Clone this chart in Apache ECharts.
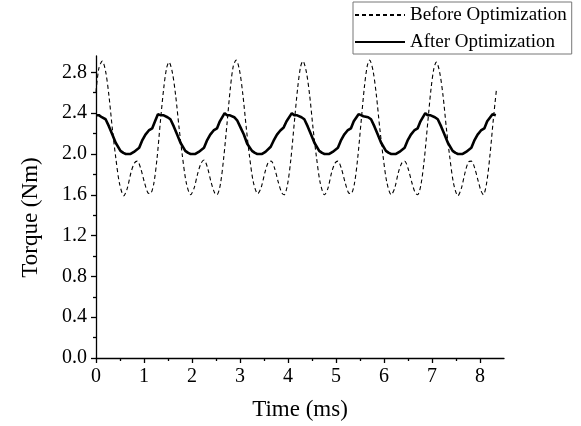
<!DOCTYPE html>
<html>
<head>
<meta charset="utf-8">
<script src="https://cdn.jsdelivr.net/npm/echarts@6/dist/echarts.min.js"></script>
<style>
  html, body { margin: 0; padding: 0; background: #fff; }
  #chart { width: 581px; height: 426px; }
</style>
</head>
<body>
<div id="chart"></div>
<script>
// ---- data ----
const seriesNames = ['Before Optimization', 'After Optimization'];

const beforeTime = [0, 0.06, 0.13, 0.20, 0.27, 0.34, 0.41, 0.49, 0.58, 0.65, 0.73, 0.80, 0.86, 0.93, 1.01, 1.08, 1.13, 1.20, 1.27, 1.34, 1.41, 1.47,
  1.52, 1.59, 1.66, 1.73, 1.80, 1.88, 1.97, 2.04, 2.12, 2.19, 2.25, 2.32, 2.40, 2.47, 2.52, 2.59, 2.66, 2.73, 2.80, 2.86,
  2.92, 2.99, 3.06, 3.13, 3.20, 3.28, 3.37, 3.44, 3.52, 3.59, 3.65, 3.72, 3.80, 3.87, 3.92, 3.99, 4.06, 4.13, 4.20, 4.26,
  4.31, 4.38, 4.45, 4.52, 4.59, 4.67, 4.76, 4.83, 4.91, 4.98, 5.04, 5.11, 5.19, 5.26, 5.31, 5.38, 5.45, 5.52, 5.59, 5.65,
  5.70, 5.77, 5.84, 5.91, 5.98, 6.06, 6.15, 6.22, 6.30, 6.37, 6.43, 6.50, 6.58, 6.65, 6.70, 6.77, 6.84, 6.91, 6.98, 7.04,
  7.09, 7.16, 7.23, 7.30, 7.37, 7.45, 7.54, 7.61, 7.69, 7.76, 7.82, 7.89, 7.97, 8.02, 8.07, 8.14, 8.21, 8.28, 8.34];

const beforeTorque = [2.61, 2.84, 2.91, 2.81, 2.57, 2.25, 1.97, 1.71, 1.59, 1.66, 1.82, 1.91, 1.93, 1.86, 1.72, 1.62, 1.61, 1.70, 1.95, 2.31, 2.64, 2.84,
  2.90, 2.80, 2.57, 2.26, 1.98, 1.72, 1.60, 1.66, 1.81, 1.91, 1.94, 1.87, 1.72, 1.62, 1.60, 1.70, 1.96, 2.30, 2.65, 2.86,
  2.92, 2.82, 2.58, 2.26, 1.97, 1.72, 1.61, 1.67, 1.82, 1.92, 1.93, 1.86, 1.72, 1.62, 1.60, 1.70, 1.95, 2.30, 2.64, 2.85,
  2.91, 2.81, 2.58, 2.26, 1.98, 1.72, 1.60, 1.66, 1.82, 1.91, 1.93, 1.86, 1.72, 1.62, 1.61, 1.70, 1.95, 2.30, 2.65, 2.86,
  2.92, 2.82, 2.58, 2.26, 1.98, 1.72, 1.60, 1.66, 1.82, 1.91, 1.93, 1.86, 1.72, 1.62, 1.60, 1.70, 1.95, 2.30, 2.64, 2.84,
  2.90, 2.80, 2.57, 2.25, 1.97, 1.71, 1.59, 1.66, 1.82, 1.92, 1.93, 1.86, 1.72, 1.64, 1.60, 1.72, 2.00, 2.35, 2.62];

const afterTime = [0, 0.06, 0.12, 0.20, 0.27, 0.34, 0.41, 0.51, 0.57, 0.62, 0.72, 0.79, 0.90, 0.96, 1.03, 1.10, 1.17, 1.23, 1.29,
  1.34, 1.40, 1.49, 1.55, 1.62, 1.69, 1.76, 1.86, 1.92, 1.97, 2.07, 2.14, 2.25, 2.31, 2.38, 2.45, 2.52, 2.58, 2.68,
  2.73, 2.78, 2.88, 2.94, 3.01, 3.08, 3.15, 3.25, 3.31, 3.36, 3.46, 3.53, 3.64, 3.70, 3.77, 3.84, 3.91, 3.97, 4.08,
  4.13, 4.18, 4.28, 4.34, 4.41, 4.48, 4.55, 4.65, 4.71, 4.76, 4.86, 4.93, 5.04, 5.10, 5.17, 5.24, 5.31, 5.37, 5.47,
  5.52, 5.57, 5.67, 5.73, 5.80, 5.87, 5.94, 6.04, 6.10, 6.15, 6.25, 6.32, 6.43, 6.49, 6.56, 6.63, 6.70, 6.76, 6.86,
  6.91, 6.96, 7.06, 7.12, 7.19, 7.26, 7.33, 7.43, 7.49, 7.54, 7.64, 7.71, 7.82, 7.88, 7.95, 8.02, 8.09, 8.15, 8.26, 8.33];

const afterTorque = [2.38, 2.38, 2.36, 2.34, 2.27, 2.19, 2.11, 2.03, 2.01, 2.00, 2.00, 2.02, 2.06, 2.13, 2.19, 2.23, 2.25, 2.32, 2.39,
  2.38, 2.38, 2.36, 2.34, 2.27, 2.19, 2.11, 2.03, 2.01, 2.00, 2.00, 2.02, 2.06, 2.13, 2.19, 2.23, 2.25, 2.32, 2.40,
  2.38, 2.38, 2.36, 2.33, 2.26, 2.19, 2.10, 2.03, 2.01, 2.00, 2.00, 2.02, 2.07, 2.13, 2.19, 2.23, 2.26, 2.32, 2.40,
  2.38, 2.38, 2.36, 2.34, 2.27, 2.19, 2.11, 2.03, 2.01, 2.00, 2.00, 2.02, 2.06, 2.13, 2.19, 2.23, 2.25, 2.32, 2.39,
  2.38, 2.37, 2.36, 2.34, 2.27, 2.19, 2.11, 2.03, 2.01, 2.00, 2.00, 2.02, 2.06, 2.13, 2.19, 2.23, 2.25, 2.32, 2.40,
  2.38, 2.38, 2.36, 2.34, 2.27, 2.19, 2.11, 2.03, 2.01, 2.00, 2.00, 2.02, 2.06, 2.13, 2.19, 2.23, 2.25, 2.32, 2.39, 2.38];

const xTickLabels = [0, 1, 2, 3, 4, 5, 6, 7, 8];
const yTickLabels = [0.0, 0.4, 0.8, 1.2, 1.6, 2.0, 2.4, 2.8];
const xTitle = 'Time (ms)';
const yTitle = 'Torque (Nm)';

// ---- build ----
function zip(a, b) {
  const n = Math.min(a.length, b.length);
  const out = [];
  for (let i = 0; i < n; i++) out.push([a[i], b[i]]);
  return out;
}
function mids(arr) {
  const out = [];
  for (let i = 0; i < arr.length - 1; i++) out.push(+((arr[i] + arr[i + 1]) / 2).toFixed(3));
  return out;
}

const FONT = 'Liberation Serif';
const X_MIN = 0, X_MAX = 8.5, Y_MIN = 0, Y_MAX = 2.96;
const axisLineStyle = { color: '#000', width: 1.3 };

const chart = echarts.init(document.getElementById('chart'), null, { renderer: 'canvas' });

const option = {
  animation: false,
  backgroundColor: '#fff',
  grid: { left: 96, right: 77, top: 56, bottom: 65, containLabel: false },
  legend: {
    orient: 'vertical',
    left: 353,
    top: 2,
    padding: [3, 5, 2, 1],
    itemGap: 7,
    itemWidth: 50,
    itemHeight: 14,
    borderColor: '#777',
    borderWidth: 1,
    borderRadius: 0,
    backgroundColor: '#fff',
    itemStyle: { color: 'rgba(0,0,0,0)', borderColor: 'rgba(0,0,0,0)', borderWidth: 0 },
    textStyle: { fontFamily: FONT, fontSize: 19, color: '#000', lineHeight: 20 },
    data: seriesNames.map(n => ({ name: n }))
  },
  xAxis: [
    {
      type: 'value', min: X_MIN, max: X_MAX, position: 'bottom',
      name: xTitle, nameLocation: 'middle', nameGap: 40,
      nameTextStyle: { fontFamily: FONT, fontSize: 23, color: '#000' },
      axisLine: { show: true, onZero: false, lineStyle: axisLineStyle },
      axisTick: { show: true, inside: false, length: 5, customValues: xTickLabels, lineStyle: axisLineStyle },
      axisLabel: { show: true, margin: 9, fontFamily: FONT, fontSize: 20, color: '#000', customValues: xTickLabels,
        formatter: v => String(Math.round(v)) },
      splitLine: { show: false }
    },
    {
      type: 'value', min: X_MIN, max: X_MAX, position: 'bottom',
      axisLine: { show: false },
      axisTick: { show: true, inside: false, length: 3, customValues: mids(xTickLabels), lineStyle: axisLineStyle },
      axisLabel: { show: false },
      splitLine: { show: false }
    }
  ],
  yAxis: [
    {
      type: 'value', min: Y_MIN, max: Y_MAX, position: 'left',
      name: yTitle, nameLocation: 'middle', nameGap: 54, nameRotate: 90,
      nameTextStyle: { fontFamily: FONT, fontSize: 23, color: '#000', padding: [0, 21, 0, 0] },
      axisLine: { show: true, onZero: false, lineStyle: axisLineStyle },
      axisTick: { show: true, inside: false, length: 5, customValues: yTickLabels, lineStyle: axisLineStyle },
      axisLabel: { show: true, margin: 9, fontFamily: FONT, fontSize: 20, color: '#000', customValues: yTickLabels,
        formatter: v => Number(v).toFixed(1) },
      splitLine: { show: false }
    },
    {
      type: 'value', min: Y_MIN, max: Y_MAX, position: 'left',
      axisLine: { show: false },
      axisTick: { show: true, inside: false, length: 3, customValues: mids(yTickLabels), lineStyle: axisLineStyle },
      axisLabel: { show: false },
      splitLine: { show: false }
    }
  ],
  series: [
    {
      name: seriesNames[0], type: 'line', xAxisIndex: 0, yAxisIndex: 0,
      data: zip(beforeTime, beforeTorque),
      showSymbol: false, symbol: 'none', smooth: 0.3,
      lineStyle: { color: '#000', width: 1.1, type: [4, 3] },
      itemStyle: { color: '#000' },
      z: 2
    },
    {
      name: seriesNames[1], type: 'line', xAxisIndex: 0, yAxisIndex: 0,
      data: zip(afterTime, afterTorque),
      showSymbol: false, symbol: 'none', smooth: false,
      lineStyle: { color: '#000', width: 2.6, type: 'solid' },
      itemStyle: { color: '#000' },
      z: 3
    }
  ]
};

chart.setOption(option);
</script>
</body>
</html>
